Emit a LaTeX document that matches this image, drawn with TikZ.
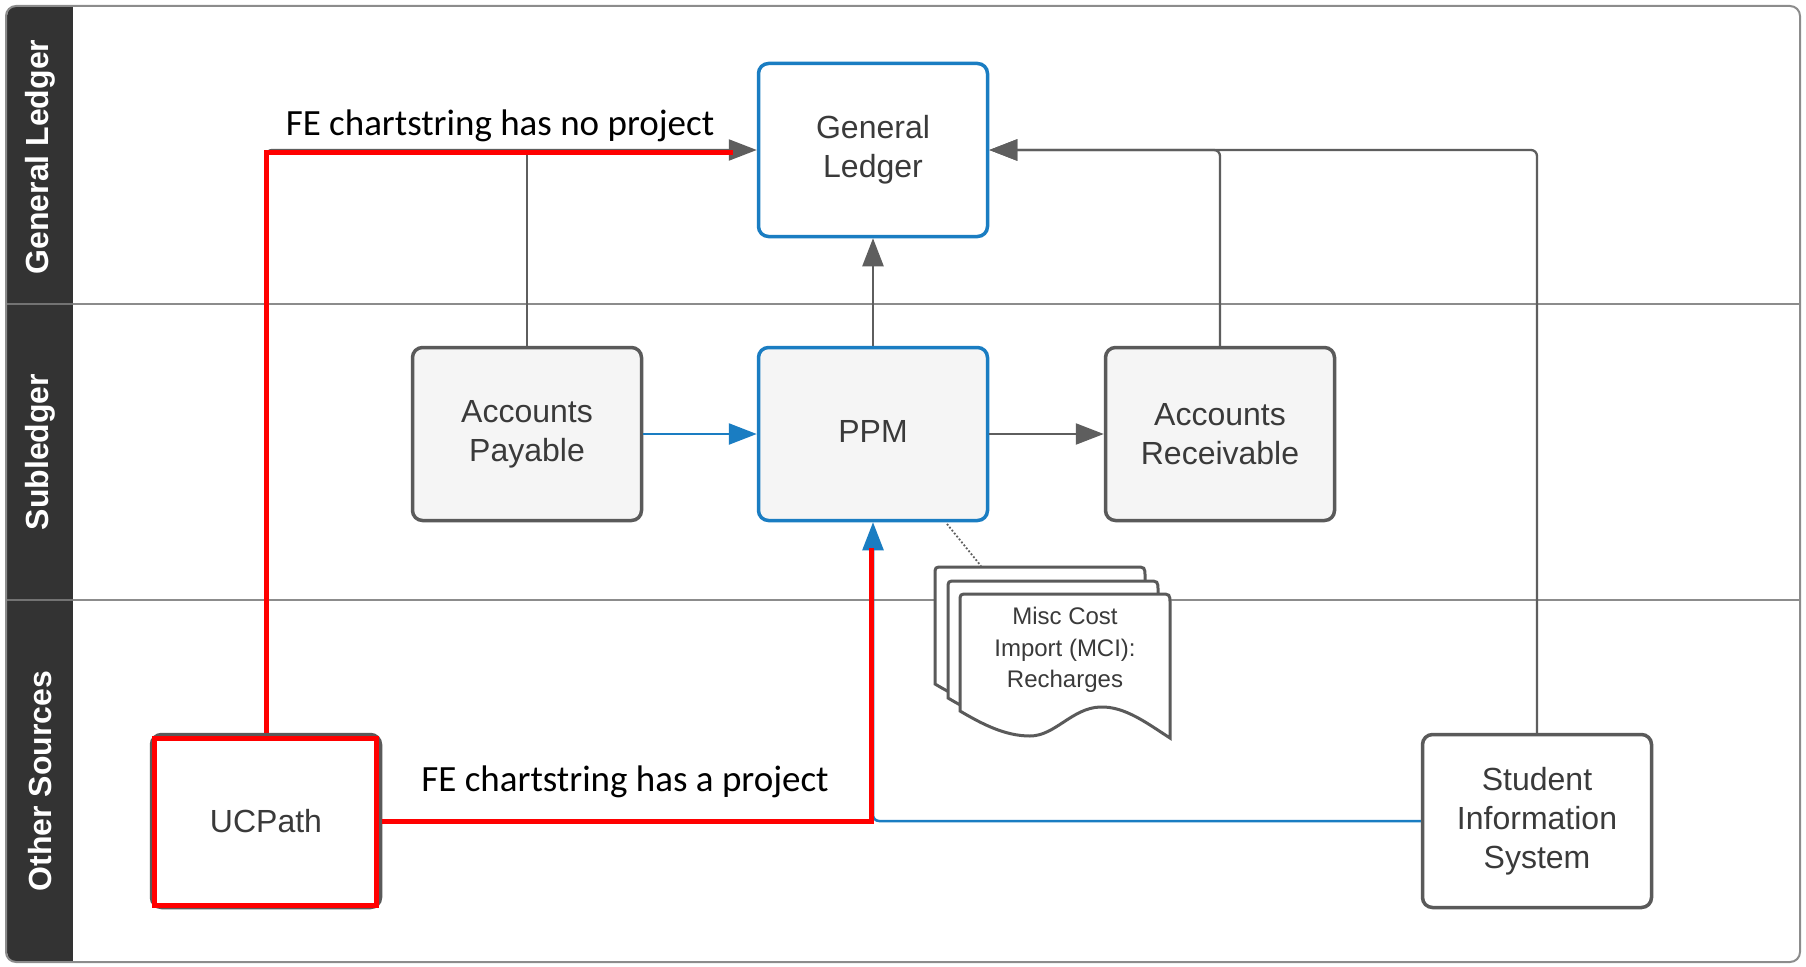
\documentclass[tikz,border=0pt]{standalone}
\usepackage{fontspec}
\setmainfont{Liberation Sans}
\newfontfamily\calib{Carlito}
\usetikzlibrary{arrows.meta,calc}
\definecolor{bandc}{HTML}{333333}
\definecolor{framec}{HTML}{8C8C8C}
\definecolor{connc}{HTML}{5E5E5E}
\definecolor{bluec}{HTML}{1A7DC2}
\definecolor{boxedge}{HTML}{5A5A5A}
\definecolor{boxfill}{HTML}{F5F5F5}
\definecolor{txtc}{HTML}{3A3A3A}
\definecolor{redc}{HTML}{FF0000}
\begin{document}
\begin{tikzpicture}[x=1pt,y=-1pt,
  box/.style={draw=boxedge, line width=3.5pt, rounded corners=10pt, minimum width=229pt, minimum height=173pt, align=center, text=txtc, font=\fontsize{32}{39}\selectfont, inner sep=0pt},
  graybox/.style={box, fill=boxfill},
  whitebox/.style={box, fill=white},
  bluebox/.style={box, draw=bluec},
  lanelabel/.style={text=white, font=\bfseries\fontsize{32}{36}\selectfont, rotate=90},
  flowlabel/.style={font=\calib\fontsize{37}{44}\selectfont, text=black, anchor=base, inner sep=0pt},
  tip/.style={-{Triangle[length=28pt,width=21pt]}},
  grayconn/.style={draw=connc, line width=2.3pt, rounded corners=6pt},
  blueconn/.style={draw=bluec, line width=2.5pt, rounded corners=6pt},
  redline/.style={draw=redc, line width=5pt},
  docline/.style={draw=boxedge, line width=3pt, fill=white}
]
\useasboundingbox (0,0) rectangle (1806,966);
% frame and lanes
\fill[bandc, rounded corners=10pt] (7,6) rectangle (100,962);
\fill[white] (73,7) rectangle (1790,961);
\draw[framec, line width=2pt] (73,304) -- (1800,304);
\draw[framec, line width=2pt] (73,600) -- (1800,600);
\draw[black!55, line width=1.5pt] (7,304) -- (73,304);
\draw[black!55, line width=1.5pt] (7,600) -- (73,600);
\draw[framec, line width=2pt, rounded corners=10pt] (6,6) rectangle (1800,962);
\node[lanelabel] (laneGL) at (40,157) {General Ledger};
\node[lanelabel] (laneSL) at (40,452) {Subledger};
\node[lanelabel] (laneOS) at (40,781) {Other Sources};
% boxes
\node[bluebox, fill=white] (gl) at (873,150) {General\\Ledger};
\node[graybox] (ap) at (527,434) {Accounts\\Payable};
\node[bluebox, fill=boxfill] (ppm) at (873,434) {\raisebox{5pt}{PPM}};
\node[graybox] (ar) at (1220,434) {Accounts\\Receivable};
\node[whitebox] (ucp) at (266,821) {UCPath};
\node[whitebox] (sis) at (1537,821) {Student\\Information\\System};
% document stack
\foreach \dx/\dy in {-25/-27, -12/-13, 0/0} {
  \begin{scope}[shift={(960,594)}, shift={(\dx,\dy)}]
    \draw[docline] (0,117) -- (0,8) .. controls (0,0) .. (8,0) -- (200,0) .. controls (210,0) .. (210,10) -- (210,144) .. controls (188,130) and (165,112) .. (140,113) .. controls (112,114) and (95,142) .. (70,142) .. controls (45,142) and (22,130) .. (0,117) -- cycle;
  \end{scope}
}
\node[align=center, text=txtc, font=\fontsize{24}{31.5}\selectfont, inner sep=0pt] (mci) at (1065,650) {Misc Cost\\Import (MCI):\\Recharges};
\coordinate (ppmdot) at (947,524);
\coordinate (mcitop) at (981,566);
\draw[connc, dotted, line width=1.8pt] (ppmdot) -- (mcitop);
% connectors
\draw[grayconn, tip] (ucp.north) |- (gl.west);
\draw[grayconn] (ap.north) -- (ap.north |- gl.west);
\draw[grayconn, tip] (ppm.north) -- (gl.south);
\draw[grayconn, tip] (sis.north) |- (gl.east);
\draw[grayconn, tip] (ar.north) |- (gl.east);
\draw[blueconn, tip] (ap.east) -- (ppm.west);
\draw[grayconn, tip] (ppm.east) -- (ar.west);
\draw[blueconn, tip] (sis.west) -| (ppm.south);
% red overlays
\draw[redline] (ucp.north) |- ($(gl.west)+(-24,2)$);
\draw[redline] (ucp.east) -| ($(ppm.south)+(-2,26)$);
\draw[redline] ($(ucp.south west)+(5,-4)$) rectangle ($(ucp.north east)+(-6,6)$);
% flow labels
\node[flowlabel] (lblA) at (500,135) {FE chartstring has no project};
\node[flowlabel] (lblB) at (625,791) {FE chartstring has a project};
\end{tikzpicture}
\end{document}
